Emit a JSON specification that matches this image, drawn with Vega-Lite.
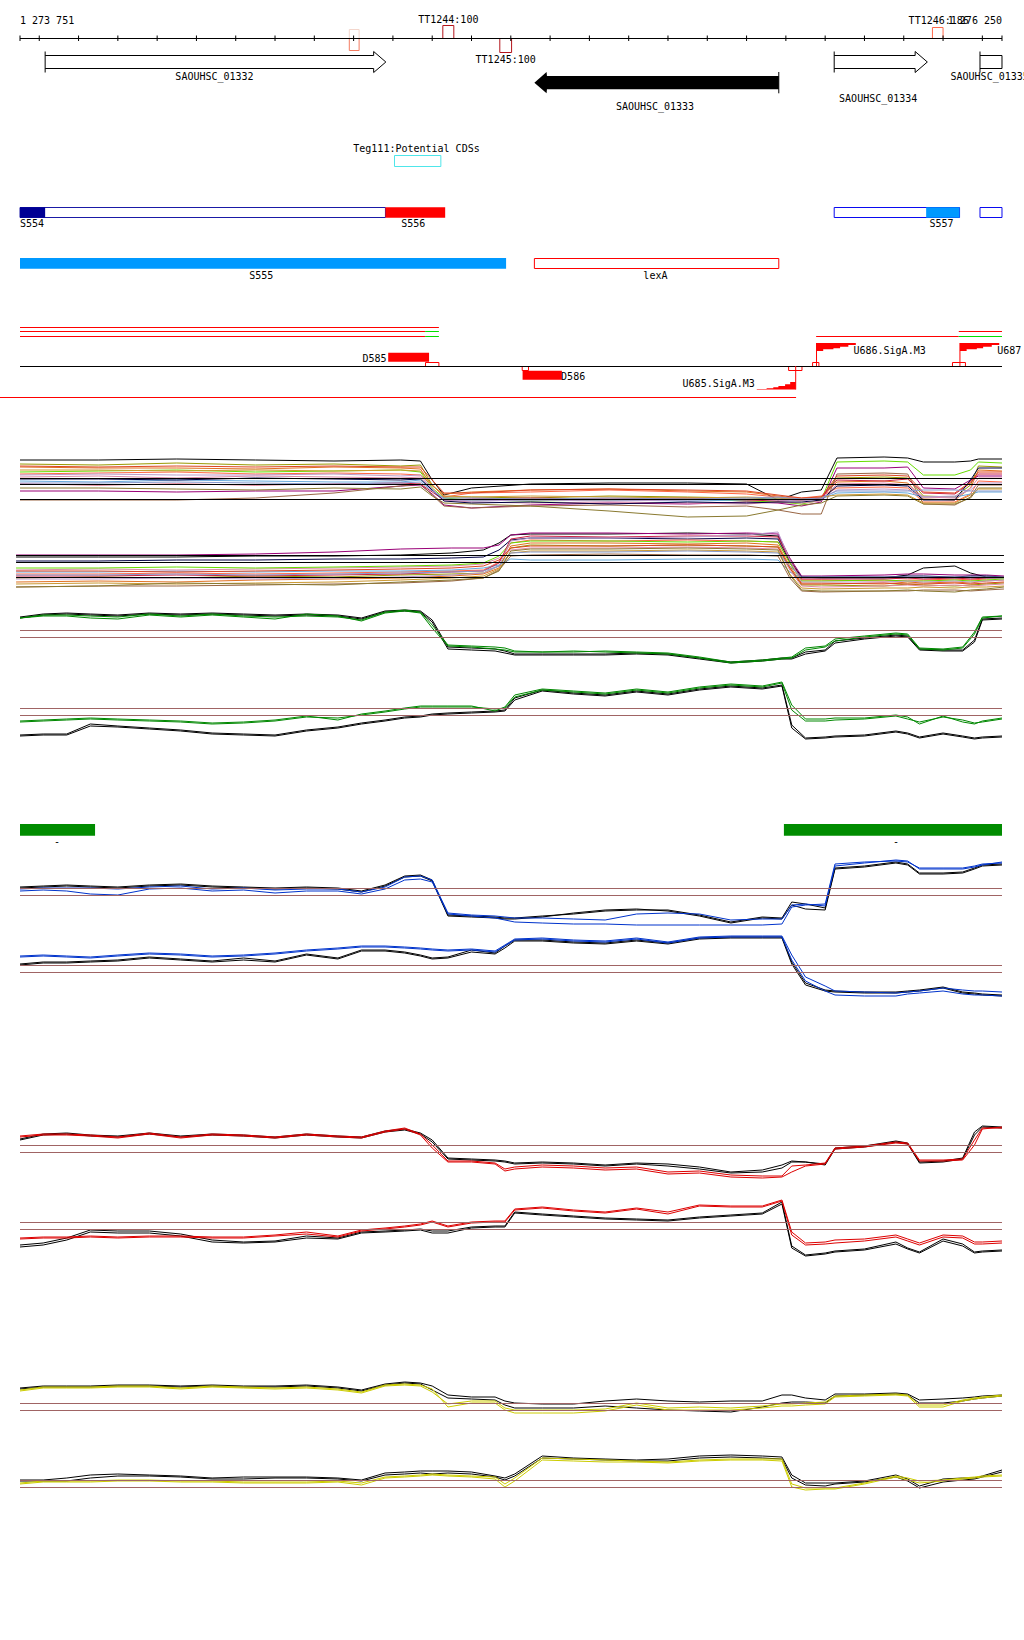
{
"$schema":"https://vega.github.io/schema/vega-lite/v6.json",
"width":1024,"height":1640,
"autosize":{"type":"none"},
"padding":0,
"background":"#ffffff",
"config":{"view":{"stroke":null}},
"datasets":{
"boxes":[
{"x":1274827,"x2":1274855,"y":25.5,"y2":38.5,"k":"TT100"},
{"x":1274972,"x2":1275002,"y":38.5,"y2":52.5,"k":"TT100"},
{"x":1276073,"x2":1276100,"y":27.5,"y2":38.5,"k":"TT186"},
{"x":1274589,"x2":1274614,"y":29.5,"y2":38.5,"k":"TTfwd"},
{"x":1274589,"x2":1274614,"y":38.5,"y2":50.5,"k":"TTrev"},
{"x":1274704,"x2":1274822,"y":155.5,"y2":166.5,"k":"Teg111"},
{"x":1273751,"x2":1274681,"y":207.5,"y2":217.5,"k":"S554"},
{"x":1275823,"x2":1276142,"y":207.5,"y2":217.5,"k":"S557"},
{"x":1276194,"x2":1276250,"y":207.5,"y2":217.5,"k":"S557"},
{"x":1275060,"x2":1275682,"y":258.5,"y2":268.5,"k":"lexA"},
{"x":1274783,"x2":1274817,"y":362.5,"y2":366.5,"k":"site"},
{"x":1275029,"x2":1275045,"y":366.5,"y2":370.5,"k":"site"},
{"x":1275707,"x2":1275741,"y":366.5,"y2":370.5,"k":"site"},
{"x":1275768,"x2":1275784,"y":362.5,"y2":366.5,"k":"site"},
{"x":1276124,"x2":1276157,"y":362.5,"y2":366.5,"k":"site"}
],
"fills":[
{"x":1273751,"x2":1273815,"y":207.3,"y2":217.7,"k":"S554"},
{"x":1274681,"x2":1274833,"y":207.3,"y2":217.7,"k":"S556"},
{"x":1276057,"x2":1276142,"y":207.3,"y2":217.7,"k":"S557"},
{"x":1273751,"x2":1274988,"y":258,"y2":268.7,"k":"S555"},
{"x":1274688,"x2":1274792,"y":352.7,"y2":361.7,"k":"D585"},
{"x":1275030,"x2":1275130,"y":370.7,"y2":379.7,"k":"D586"},
{"x":1273751,"x2":1273942,"y":824,"y2":835.7,"k":"term"},
{"x":1275695,"x2":1276250,"y":824,"y2":835.7,"k":"term"}
],
"rules":[
{"x":1273751,"x2":1276250,"y":38.5,"y2":38.5,"k":"ruler"},
{"x":1273751,"x2":1273751,"y":35.5,"y2":41,"k":"ruler"},
{"x":1273800,"x2":1273800,"y":35.5,"y2":41,"k":"ruler"},
{"x":1273900,"x2":1273900,"y":35.5,"y2":41,"k":"ruler"},
{"x":1274000,"x2":1274000,"y":35.5,"y2":41,"k":"ruler"},
{"x":1274100,"x2":1274100,"y":35.5,"y2":41,"k":"ruler"},
{"x":1274200,"x2":1274200,"y":35.5,"y2":41,"k":"ruler"},
{"x":1274300,"x2":1274300,"y":35.5,"y2":41,"k":"ruler"},
{"x":1274400,"x2":1274400,"y":35.5,"y2":41,"k":"ruler"},
{"x":1274500,"x2":1274500,"y":35.5,"y2":41,"k":"ruler"},
{"x":1274600,"x2":1274600,"y":35.5,"y2":41,"k":"ruler"},
{"x":1274700,"x2":1274700,"y":35.5,"y2":41,"k":"ruler"},
{"x":1274800,"x2":1274800,"y":35.5,"y2":41,"k":"ruler"},
{"x":1274900,"x2":1274900,"y":35.5,"y2":41,"k":"ruler"},
{"x":1275000,"x2":1275000,"y":35.5,"y2":41,"k":"ruler"},
{"x":1275100,"x2":1275100,"y":35.5,"y2":41,"k":"ruler"},
{"x":1275200,"x2":1275200,"y":35.5,"y2":41,"k":"ruler"},
{"x":1275300,"x2":1275300,"y":35.5,"y2":41,"k":"ruler"},
{"x":1275400,"x2":1275400,"y":35.5,"y2":41,"k":"ruler"},
{"x":1275500,"x2":1275500,"y":35.5,"y2":41,"k":"ruler"},
{"x":1275600,"x2":1275600,"y":35.5,"y2":41,"k":"ruler"},
{"x":1275700,"x2":1275700,"y":35.5,"y2":41,"k":"ruler"},
{"x":1275800,"x2":1275800,"y":35.5,"y2":41,"k":"ruler"},
{"x":1275900,"x2":1275900,"y":35.5,"y2":41,"k":"ruler"},
{"x":1276000,"x2":1276000,"y":35.5,"y2":41,"k":"ruler"},
{"x":1276100,"x2":1276100,"y":35.5,"y2":41,"k":"ruler"},
{"x":1276200,"x2":1276200,"y":35.5,"y2":41,"k":"ruler"},
{"x":1276250,"x2":1276250,"y":35.5,"y2":41,"k":"ruler"},
{"x":1273815,"x2":1273815,"y":51.5,"y2":72.5,"k":"ruler"},
{"x":1275823,"x2":1275823,"y":51.5,"y2":72.5,"k":"ruler"},
{"x":1276194,"x2":1276194,"y":51.5,"y2":72.5,"k":"ruler"},
{"x":1275682,"x2":1275682,"y":72,"y2":93.3,"k":"ruler"},
{"x":1273751,"x2":1274817,"y":327.5,"y2":327.5,"k":"cov"},
{"x":1273751,"x2":1274782,"y":331.5,"y2":331.5,"k":"cov"},
{"x":1274782,"x2":1274817,"y":331.5,"y2":331.5,"k":"covAlt"},
{"x":1273751,"x2":1274782,"y":336.5,"y2":336.5,"k":"cov"},
{"x":1274782,"x2":1274817,"y":336.5,"y2":336.5,"k":"covAlt"},
{"x":1276140,"x2":1276250,"y":331.5,"y2":331.5,"k":"cov"},
{"x":1275777,"x2":1276140,"y":336.5,"y2":336.5,"k":"cov"},
{"x":1276140,"x2":1276250,"y":336.5,"y2":336.5,"k":"covAlt"},
{"x":1273751,"x2":1276250,"y":366.5,"y2":366.5,"k":"ruler"},
{"x":1273700,"x2":1275726,"y":397.5,"y2":397.5,"k":"cov"},
{"x":1275725,"x2":1275725,"y":366,"y2":389.5,"k":"cov"},
{"x":1275778,"x2":1275778,"y":343,"y2":366,"k":"cov"},
{"x":1276143,"x2":1276143,"y":343,"y2":366,"k":"cov"},
{"x":1273751,"x2":1276250,"y":478.5,"y2":478.5,"k":"ruler"},
{"x":1273751,"x2":1276250,"y":484.5,"y2":484.5,"k":"ruler"},
{"x":1273751,"x2":1276250,"y":499.5,"y2":499.5,"k":"ruler"},
{"x":1273741,"x2":1276255,"y":555.5,"y2":555.5,"k":"ruler"},
{"x":1273741,"x2":1276255,"y":562.5,"y2":562.5,"k":"ruler"},
{"x":1273741,"x2":1276255,"y":577.5,"y2":577.5,"k":"ruler"},
{"x":1273751,"x2":1276250,"y":630.5,"y2":630.5,"k":"thr"},
{"x":1273751,"x2":1276250,"y":637.5,"y2":637.5,"k":"thr"},
{"x":1273751,"x2":1276250,"y":708.5,"y2":708.5,"k":"thr"},
{"x":1273751,"x2":1276250,"y":715.5,"y2":715.5,"k":"thr"},
{"x":1273751,"x2":1276250,"y":888.5,"y2":888.5,"k":"thr"},
{"x":1273751,"x2":1276250,"y":895.5,"y2":895.5,"k":"thr"},
{"x":1273751,"x2":1276250,"y":965.5,"y2":965.5,"k":"thr"},
{"x":1273751,"x2":1276250,"y":972.5,"y2":972.5,"k":"thr"},
{"x":1273751,"x2":1276250,"y":1145.5,"y2":1145.5,"k":"thr"},
{"x":1273751,"x2":1276250,"y":1152.5,"y2":1152.5,"k":"thr"},
{"x":1273751,"x2":1276250,"y":1222.5,"y2":1222.5,"k":"thr"},
{"x":1273751,"x2":1276250,"y":1229.5,"y2":1229.5,"k":"thr"},
{"x":1273751,"x2":1276250,"y":1403.5,"y2":1403.5,"k":"thr"},
{"x":1273751,"x2":1276250,"y":1410.5,"y2":1410.5,"k":"thr"},
{"x":1273751,"x2":1276250,"y":1480.5,"y2":1480.5,"k":"thr"},
{"x":1273751,"x2":1276250,"y":1487.5,"y2":1487.5,"k":"thr"}
],
"genes":[
{"g":"SAOUHSC_01332","o":1,"x":1273815,"y":55.5},
{"g":"SAOUHSC_01332","o":2,"x":1274651,"y":55.5},
{"g":"SAOUHSC_01332","o":3,"x":1274651,"y":51.5},
{"g":"SAOUHSC_01332","o":4,"x":1274682,"y":62},
{"g":"SAOUHSC_01332","o":5,"x":1274651,"y":72.5},
{"g":"SAOUHSC_01332","o":6,"x":1274651,"y":68.5},
{"g":"SAOUHSC_01332","o":7,"x":1273815,"y":68.5},
{"g":"SAOUHSC_01334","o":1,"x":1275823,"y":55.5},
{"g":"SAOUHSC_01334","o":2,"x":1276029,"y":55.5},
{"g":"SAOUHSC_01334","o":3,"x":1276029,"y":51.5},
{"g":"SAOUHSC_01334","o":4,"x":1276060,"y":62},
{"g":"SAOUHSC_01334","o":5,"x":1276029,"y":72.5},
{"g":"SAOUHSC_01334","o":6,"x":1276029,"y":68.5},
{"g":"SAOUHSC_01334","o":7,"x":1275823,"y":68.5},
{"g":"SAOUHSC_01335","o":1,"x":1276194,"y":55.5},
{"g":"SAOUHSC_01335","o":2,"x":1276250,"y":55.5},
{"g":"SAOUHSC_01335","o":3,"x":1276250,"y":68.5},
{"g":"SAOUHSC_01335","o":4,"x":1276194,"y":68.5}
],
"arrow33":[
{"x":1275060,"y":82.7,"y2":82.7},
{"x":1275091,"y":72,"y2":93.3},
{"x":1275092,"y":76,"y2":89.3},
{"x":1275682,"y":76,"y2":89.3}
],
"flags":[
{"f":"U685","x":1275626,"y":389,"y2":389.5},
{"f":"U685","x":1275651,"y":388.3,"y2":389.5},
{"f":"U685","x":1275668,"y":387.3,"y2":389.5},
{"f":"U685","x":1275681,"y":386,"y2":389.5},
{"f":"U685","x":1275698,"y":384.3,"y2":389.5},
{"f":"U685","x":1275711,"y":382,"y2":389.5},
{"f":"U685","x":1275725,"y":381,"y2":389.5},
{"f":"U686","x":1275778,"y":343,"y2":351},
{"f":"U686","x":1275795,"y":343,"y2":349.3},
{"f":"U686","x":1275821,"y":343,"y2":348.3},
{"f":"U686","x":1275838,"y":343,"y2":346.7},
{"f":"U686","x":1275859,"y":343,"y2":345},
{"f":"U686","x":1275878,"y":343,"y2":345},
{"f":"U687","x":1276143,"y":343,"y2":351},
{"f":"U687","x":1276160,"y":343,"y2":349.3},
{"f":"U687","x":1276186,"y":343,"y2":348.3},
{"f":"U687","x":1276202,"y":343,"y2":346.7},
{"f":"U687","x":1276224,"y":343,"y2":345},
{"f":"U687","x":1276243,"y":343,"y2":345}
],
"labL":[
{"x":1273751,"y":24,"t":"1 273 751"},
{"x":1276119,"y":80,"t":"SAOUHSC_01335"},
{"x":1273751,"y":227,"t":"S554"},
{"x":1275128,"y":379.7,"t":"D586"},
{"x":1275872,"y":354.3,"t":"U686.SigA.M3"},
{"x":1276238,"y":354.3,"t":"U687"}
],
"labC":[
{"x":1274841,"y":23,"t":"TT1244:100"},
{"x":1274987,"y":63,"t":"TT1245:100"},
{"x":1276089,"y":24,"t":"TT1246:186"},
{"x":1274246,"y":80,"t":"SAOUHSC_01332"},
{"x":1275367,"y":110,"t":"SAOUHSC_01333"},
{"x":1275935,"y":101.5,"t":"SAOUHSC_01334"},
{"x":1274760,"y":152,"t":"Teg111:Potential CDSs"},
{"x":1274752,"y":227,"t":"S556"},
{"x":1276096,"y":227,"t":"S557"},
{"x":1274365,"y":278.5,"t":"S555"},
{"x":1275368,"y":278.5,"t":"lexA"},
{"x":1273845,"y":844.5,"t":"-"},
{"x":1275980,"y":844.5,"t":"-"}
],
"labR":[
{"x":1276250,"y":24,"t":"1 276 250"},
{"x":1274684,"y":362,"t":"D585"},
{"x":1275621,"y":387,"t":"U685.SigA.M3"}
],
"expr":[
{"s":"A01","c":"s01","x":[1273751,1273950,1274150,1274350,1274550,1274720,1274770,1274800,1274830,1274900,1275050,1275250,1275450,1275600,1275680,1275740,1275790,1275830,1275950,1276010,1276050,1276130,1276170,1276190,1276250],"y":[460,460,459,460,461,460,461,480,495,488,484,483,483,484,500,492,490,458,457,458,462,462,461,459,459]},
{"s":"A02","c":"s02","x":[1273751,1273950,1274150,1274350,1274550,1274720,1274770,1274800,1274830,1274900,1275050,1275250,1275450,1275600,1275680,1275740,1275790,1275830,1275950,1276010,1276050,1276130,1276170,1276190,1276250],"y":[472,471,470,472,471,470,472,488,498,500,501,500,499,501,502,504,500,462,461,462,475,475,470,462,463]},
{"s":"A03","c":"s03","x":[1273751,1273950,1274150,1274350,1274550,1274720,1274770,1274800,1274830,1274900,1275050,1275250,1275450,1275600,1275680,1275740,1275790,1275830,1275950,1276010,1276050,1276130,1276170,1276190,1276250],"y":[464,465,463,465,464,466,465,485,497,497,498,496,497,498,499,501,498,478,477,478,496,497,485,466,467]},
{"s":"A04","c":"s04","x":[1273751,1273950,1274150,1274350,1274550,1274720,1274770,1274800,1274830,1274900,1275050,1275250,1275450,1275600,1275680,1275740,1275790,1275830,1275950,1276010,1276050,1276130,1276170,1276190,1276250],"y":[467,468,468,469,467,468,469,486,494,492,490,489,491,492,496,499,497,482,481,483,499,500,488,470,471]},
{"s":"A05","c":"s05","x":[1273751,1273950,1274150,1274350,1274550,1274720,1274770,1274800,1274830,1274900,1275050,1275250,1275450,1275600,1275680,1275740,1275790,1275830,1275950,1276010,1276050,1276130,1276170,1276190,1276250],"y":[491,491,492,491,491,486,485,494,505,508,505,503,504,502,503,506,502,468,468,467,488,489,480,476,476]},
{"s":"A06","c":"s06","x":[1273751,1273950,1274150,1274350,1274550,1274720,1274770,1274800,1274830,1274900,1275050,1275250,1275450,1275600,1275680,1275740,1275790,1275830,1275950,1276010,1276050,1276130,1276170,1276190,1276250],"y":[474,473,472,474,473,474,475,485,497,493,492,490,492,494,497,498,496,488,487,488,502,502,494,481,482]},
{"s":"A07","c":"s07","x":[1273751,1273950,1274150,1274350,1274550,1274720,1274770,1274800,1274830,1274900,1275050,1275250,1275450,1275600,1275680,1275740,1275790,1275830,1275950,1276010,1276050,1276130,1276170,1276190,1276250],"y":[481,482,480,481,482,482,480,490,499,501,500,500,501,500,498,500,499,493,492,493,497,497,494,492,492]},
{"s":"A08","c":"s08","x":[1273751,1273950,1274150,1274350,1274550,1274720,1274770,1274800,1274830,1274900,1275050,1275250,1275450,1275600,1275680,1275740,1275790,1275830,1275950,1276010,1276050,1276130,1276170,1276190,1276250],"y":[477,476,478,476,477,478,477,489,500,502,503,502,503,504,502,503,501,484,483,485,497,498,488,478,478]},
{"s":"A09","c":"s09","x":[1273751,1273950,1274150,1274350,1274550,1274720,1274770,1274800,1274830,1274900,1275050,1275250,1275450,1275600,1275680,1275740,1275790,1275830,1275950,1276010,1276050,1276130,1276170,1276190,1276250],"y":[500,500,500,498,493,486,484,495,506,508,506,505,507,506,510,514,514,474,473,474,504,505,497,485,485]},
{"s":"A10","c":"s10","x":[1273751,1273950,1274150,1274350,1274550,1274720,1274770,1274800,1274830,1274900,1275050,1275250,1275450,1275600,1275680,1275740,1275790,1275830,1275950,1276010,1276050,1276130,1276170,1276190,1276250],"y":[488,488,489,490,488,489,487,496,503,504,506,511,517,516,510,505,503,496,495,496,504,504,498,488,488]},
{"s":"A11","c":"s11","x":[1273751,1273950,1274150,1274350,1274550,1274720,1274770,1274800,1274830,1274900,1275050,1275250,1275450,1275600,1275680,1275740,1275790,1275830,1275950,1276010,1276050,1276130,1276170,1276190,1276250],"y":[484,485,484,485,484,483,484,492,500,499,498,499,498,500,501,500,498,480,481,479,493,494,483,474,474]},
{"s":"A12","c":"s12","x":[1273751,1273950,1274150,1274350,1274550,1274720,1274770,1274800,1274830,1274900,1275050,1275250,1275450,1275600,1275680,1275740,1275790,1275830,1275950,1276010,1276050,1276130,1276170,1276190,1276250],"y":[479,479,480,478,479,480,479,490,501,503,502,504,502,503,502,502,500,486,485,486,500,500,480,468,468]},
{"s":"A13","c":"s13","x":[1273751,1273950,1274150,1274350,1274550,1274720,1274770,1274800,1274830,1274900,1275050,1275250,1275450,1275600,1275680,1275740,1275790,1275830,1275950,1276010,1276050,1276130,1276170,1276190,1276250],"y":[475,474,475,475,474,476,475,489,500,501,500,501,500,499,500,501,499,490,489,490,497,496,490,483,483]},
{"s":"A14","c":"s14","x":[1273751,1273950,1274150,1274350,1274550,1274720,1274770,1274800,1274830,1274900,1275050,1275250,1275450,1275600,1275680,1275740,1275790,1275830,1275950,1276010,1276050,1276130,1276170,1276190,1276250],"y":[470,470,471,470,471,470,471,485,496,497,496,497,498,497,498,499,497,495,494,495,503,503,495,489,489]},
{"s":"A15","c":"s15","x":[1273751,1273950,1274150,1274350,1274550,1274720,1274770,1274800,1274830,1274900,1275050,1275250,1275450,1275600,1275680,1275740,1275790,1275830,1275950,1276010,1276050,1276130,1276170,1276190,1276250],"y":[466,467,466,467,466,467,467,480,493,493,490,489,490,491,495,498,497,476,475,476,492,493,482,472,472]},
{"s":"A16","c":"s16","x":[1273751,1273950,1274150,1274350,1274550,1274720,1274770,1274800,1274830,1274900,1275050,1275250,1275450,1275600,1275680,1275740,1275790,1275830,1275950,1276010,1276050,1276130,1276170,1276190,1276250],"y":[483,483,482,483,484,483,482,491,498,498,499,498,499,498,497,499,498,491,491,491,490,490,491,491,491]},
{"s":"B01","c":"s01","x":[1273741,1273950,1274150,1274350,1274550,1274720,1274850,1274930,1274970,1275000,1275050,1275250,1275450,1275600,1275680,1275710,1275740,1275790,1275950,1276010,1276050,1276130,1276170,1276210,1276255],"y":[557,557,557,556,556,555,553,550,543,535,534,534,533,534,536,560,577,578,578,575,568,566,573,577,577]},
{"s":"B02","c":"s05","x":[1273741,1273950,1274150,1274350,1274550,1274720,1274850,1274930,1274970,1275000,1275050,1275250,1275450,1275600,1275680,1275710,1275740,1275790,1275950,1276010,1276050,1276130,1276170,1276210,1276255],"y":[555,555,555,554,552,549,548,548,545,535,533,533,534,533,534,558,576,576,575,574,574,575,575,575,576]},
{"s":"B03","c":"s12","x":[1273741,1273950,1274150,1274350,1274550,1274720,1274850,1274930,1274970,1275000,1275050,1275250,1275450,1275600,1275680,1275710,1275740,1275790,1275950,1276010,1276050,1276130,1276170,1276210,1276255],"y":[561,561,560,560,559,559,558,557,550,540,538,538,539,538,539,562,577,577,577,576,576,577,576,576,577]},
{"s":"B04","c":"s03","x":[1273741,1273950,1274150,1274350,1274550,1274720,1274850,1274930,1274970,1275000,1275050,1275250,1275450,1275600,1275680,1275710,1275740,1275790,1275950,1276010,1276050,1276130,1276170,1276210,1276255],"y":[578,577,578,576,577,575,574,573,566,548,545,546,545,546,547,568,585,585,586,584,585,586,585,584,583]},
{"s":"B05","c":"s04","x":[1273741,1273950,1274150,1274350,1274550,1274720,1274850,1274930,1274970,1275000,1275050,1275250,1275450,1275600,1275680,1275710,1275740,1275790,1275950,1276010,1276050,1276130,1276170,1276210,1276255],"y":[582,581,582,580,579,578,576,574,568,546,543,543,544,543,545,566,583,583,584,582,583,582,583,581,580]},
{"s":"B06","c":"s06","x":[1273741,1273950,1274150,1274350,1274550,1274720,1274850,1274930,1274970,1275000,1275050,1275250,1275450,1275600,1275680,1275710,1275740,1275790,1275950,1276010,1276050,1276130,1276170,1276210,1276255],"y":[574,574,573,574,573,572,571,570,562,543,540,541,540,541,542,563,580,580,581,580,580,579,580,579,578]},
{"s":"B07","c":"s07","x":[1273741,1273950,1274150,1274350,1274550,1274720,1274850,1274930,1274970,1275000,1275050,1275250,1275450,1275600,1275680,1275710,1275740,1275790,1275950,1276010,1276050,1276130,1276170,1276210,1276255],"y":[572,572,571,572,571,571,570,568,565,559,560,560,559,559,560,572,578,578,578,578,578,578,578,578,578]},
{"s":"B08","c":"s08","x":[1273741,1273950,1274150,1274350,1274550,1274720,1274850,1274930,1274970,1275000,1275050,1275250,1275450,1275600,1275680,1275710,1275740,1275790,1275950,1276010,1276050,1276130,1276170,1276210,1276255],"y":[570,569,570,569,568,567,566,564,558,550,548,548,547,548,549,570,586,587,586,585,586,585,586,585,584]},
{"s":"B09","c":"s09","x":[1273741,1273950,1274150,1274350,1274550,1274720,1274850,1274930,1274970,1275000,1275050,1275250,1275450,1275600,1275680,1275710,1275740,1275790,1275950,1276010,1276050,1276130,1276170,1276210,1276255],"y":[587,586,586,585,584,583,581,578,570,556,555,554,555,555,556,578,591,592,591,591,590,590,591,590,589]},
{"s":"B10","c":"s02","x":[1273741,1273950,1274150,1274350,1274550,1274720,1274850,1274930,1274970,1275000,1275050,1275250,1275450,1275600,1275680,1275710,1275740,1275790,1275950,1276010,1276050,1276130,1276170,1276210,1276255],"y":[568,568,567,568,567,566,565,563,556,543,541,541,542,541,542,563,581,581,580,581,581,580,581,580,579]},
{"s":"B11","c":"s11","x":[1273741,1273950,1274150,1274350,1274550,1274720,1274850,1274930,1274970,1275000,1275050,1275250,1275450,1275600,1275680,1275710,1275740,1275790,1275950,1276010,1276050,1276130,1276170,1276210,1276255],"y":[576,576,575,576,575,574,572,571,563,539,536,537,536,536,537,560,579,579,579,578,579,578,579,578,577]},
{"s":"B12","c":"s13","x":[1273741,1273950,1274150,1274350,1274550,1274720,1274850,1274930,1274970,1275000,1275050,1275250,1275450,1275600,1275680,1275710,1275740,1275790,1275950,1276010,1276050,1276130,1276170,1276210,1276255],"y":[579,579,578,579,578,577,575,573,566,541,538,538,537,535,532,560,582,582,582,581,582,581,582,581,580]},
{"s":"B13","c":"s14","x":[1273741,1273950,1274150,1274350,1274550,1274720,1274850,1274930,1274970,1275000,1275050,1275250,1275450,1275600,1275680,1275710,1275740,1275790,1275950,1276010,1276050,1276130,1276170,1276210,1276255],"y":[584,583,584,583,582,580,578,576,569,553,551,551,550,551,552,574,588,589,588,588,587,588,587,587,586]},
{"s":"B14","c":"s15","x":[1273741,1273950,1274150,1274350,1274550,1274720,1274850,1274930,1274970,1275000,1275050,1275250,1275450,1275600,1275680,1275710,1275740,1275790,1275950,1276010,1276050,1276130,1276170,1276210,1276255],"y":[571,571,572,571,570,569,568,566,560,548,546,546,545,546,547,568,584,584,583,584,584,583,584,583,582]},
{"s":"B15","c":"s16","x":[1273741,1273950,1274150,1274350,1274550,1274720,1274850,1274930,1274970,1275000,1275050,1275250,1275450,1275600,1275680,1275710,1275740,1275790,1275950,1276010,1276050,1276130,1276170,1276210,1276255],"y":[575,575,574,575,574,573,572,571,566,553,552,552,551,552,553,566,577,577,577,577,577,577,577,577,577]},
{"s":"B16","c":"s10","x":[1273741,1273950,1274150,1274350,1274550,1274720,1274850,1274930,1274970,1275000,1275050,1275250,1275450,1275600,1275680,1275710,1275740,1275790,1275950,1276010,1276050,1276130,1276170,1276210,1276255],"y":[587,586,583,584,585,582,580,578,571,551,549,549,548,549,550,575,590,591,591,590,591,592,590,589,587]},
{"s":"C1k1","c":"ctrl","x":[1273751,1273810,1273870,1273930,1274000,1274080,1274160,1274240,1274320,1274400,1274480,1274560,1274620,1274680,1274730,1274770,1274800,1274840,1274900,1274960,1274985,1275010,1275080,1275160,1275240,1275320,1275400,1275480,1275560,1275640,1275690,1275715,1275750,1275800,1275825,1275900,1275980,1276010,1276040,1276100,1276150,1276180,1276200,1276250],"y":[617,614,613,614,615,613,614,613,614,615,614,615,618,611,610,611,620,647,648,649,651,654,654,654,654,653,654,658,662,660,658,658,652,650,641,638,635,636,649,650,650,640,619,618]},
{"s":"C1k2","c":"ctrl","x":[1273751,1273810,1273870,1273930,1274000,1274080,1274160,1274240,1274320,1274400,1274480,1274560,1274620,1274680,1274730,1274770,1274800,1274840,1274900,1274960,1274985,1275010,1275080,1275160,1275240,1275320,1275400,1275480,1275560,1275640,1275690,1275715,1275750,1275800,1275825,1275900,1275980,1276010,1276040,1276100,1276150,1276180,1276200,1276250],"y":[618,615,614,615,616,614,615,614,615,616,615,616,619,612,611,612,622,649,650,651,653,655,655,655,655,654,655,659,663,661,659,659,654,651,643,639,636,637,650,651,651,642,620,619]},
{"s":"C1g1","c":"G","x":[1273751,1273810,1273870,1273930,1274000,1274080,1274160,1274240,1274320,1274400,1274480,1274560,1274620,1274680,1274730,1274770,1274800,1274840,1274900,1274960,1274985,1275010,1275080,1275160,1275240,1275320,1275400,1275480,1275560,1275640,1275690,1275715,1275750,1275800,1275825,1275900,1275980,1276010,1276040,1276100,1276150,1276180,1276200,1276250],"y":[618,615,615,616,617,614,616,614,616,617,616,617,620,612,610,612,625,645,646,647,648,651,652,652,651,652,653,657,662,660,658,657,648,646,639,636,633,634,648,649,647,632,617,616]},
{"s":"C1g2","c":"G","x":[1273751,1273810,1273870,1273930,1274000,1274080,1274160,1274240,1274320,1274400,1274480,1274560,1274620,1274680,1274730,1274770,1274800,1274840,1274900,1274960,1274985,1275010,1275080,1275160,1275240,1275320,1275400,1275480,1275560,1275640,1275690,1275715,1275750,1275800,1275825,1275900,1275980,1276010,1276040,1276100,1276150,1276180,1276200,1276250],"y":[618,616,616,618,619,615,617,615,617,619,614,616,621,613,611,613,628,646,647,649,650,652,652,651,652,653,654,658,663,661,659,658,650,647,641,637,634,635,649,650,648,634,618,616]},
{"s":"C2k1","c":"ctrl","x":[1273751,1273810,1273870,1273930,1274000,1274080,1274160,1274240,1274320,1274400,1274480,1274560,1274620,1274680,1274730,1274770,1274800,1274840,1274900,1274960,1274985,1275010,1275080,1275160,1275240,1275320,1275400,1275480,1275560,1275640,1275690,1275715,1275750,1275800,1275825,1275900,1275980,1276010,1276040,1276100,1276150,1276180,1276200,1276250],"y":[735,734,734,724,726,728,730,733,734,735,730,727,723,720,717,716,714,713,712,711,710,698,690,693,695,691,694,689,686,688,685,725,738,737,736,735,731,733,737,733,736,738,737,736]},
{"s":"C2k2","c":"ctrl","x":[1273751,1273810,1273870,1273930,1274000,1274080,1274160,1274240,1274320,1274400,1274480,1274560,1274620,1274680,1274730,1274770,1274800,1274840,1274900,1274960,1274985,1275010,1275080,1275160,1275240,1275320,1275400,1275480,1275560,1275640,1275690,1275715,1275750,1275800,1275825,1275900,1275980,1276010,1276040,1276100,1276150,1276180,1276200,1276250],"y":[736,735,735,726,727,729,731,734,735,736,731,728,724,721,718,717,715,714,713,712,711,700,691,694,696,692,695,690,687,689,686,728,739,738,737,736,732,734,738,734,737,739,738,737]},
{"s":"C2g1","c":"G","x":[1273751,1273810,1273870,1273930,1274000,1274080,1274160,1274240,1274320,1274400,1274480,1274560,1274620,1274680,1274730,1274770,1274800,1274840,1274900,1274960,1274985,1275010,1275080,1275160,1275240,1275320,1275400,1275480,1275560,1275640,1275690,1275715,1275750,1275800,1275825,1275900,1275980,1276010,1276040,1276100,1276150,1276180,1276200,1276250],"y":[722,721,720,719,720,721,722,724,723,721,717,718,715,712,709,707,707,707,707,709,708,697,690,692,694,690,693,688,685,687,683,710,721,721,720,719,716,719,722,717,720,723,722,719]},
{"s":"C2g2","c":"G","x":[1273751,1273810,1273870,1273930,1274000,1274080,1274160,1274240,1274320,1274400,1274480,1274560,1274620,1274680,1274730,1274770,1274800,1274840,1274900,1274960,1274985,1275010,1275080,1275160,1275240,1275320,1275400,1275480,1275560,1275640,1275690,1275715,1275750,1275800,1275825,1275900,1275980,1276010,1276040,1276100,1276150,1276180,1276200,1276250],"y":[721,720,719,718,719,720,721,723,722,720,716,720,714,711,708,706,706,706,706,711,707,695,689,691,693,689,692,687,684,686,682,705,719,719,718,718,715,717,724,716,722,724,721,718]},
{"s":"D1k1","c":"ctrl","x":[1273751,1273810,1273870,1273930,1274000,1274080,1274160,1274240,1274320,1274400,1274480,1274560,1274620,1274680,1274730,1274770,1274800,1274840,1274900,1274960,1274985,1275010,1275080,1275160,1275240,1275320,1275400,1275480,1275560,1275640,1275690,1275715,1275750,1275800,1275825,1275900,1275980,1276010,1276040,1276100,1276150,1276180,1276200,1276250],"y":[887,886,885,886,887,885,884,886,887,888,887,888,891,885,876,875,880,915,916,917,918,918,916,914,911,910,910,915,922,917,918,902,904,908,868,866,862,864,873,873,872,868,865,864]},
{"s":"D1k2","c":"ctrl","x":[1273751,1273810,1273870,1273930,1274000,1274080,1274160,1274240,1274320,1274400,1274480,1274560,1274620,1274680,1274730,1274770,1274800,1274840,1274900,1274960,1274985,1275010,1275080,1275160,1275240,1275320,1275400,1275480,1275560,1275640,1275690,1275715,1275750,1275800,1275825,1275900,1275980,1276010,1276040,1276100,1276150,1276180,1276200,1276250],"y":[888,887,886,887,888,886,885,887,888,889,888,889,892,886,877,876,881,916,917,918,919,919,917,913,910,909,911,916,923,918,919,905,909,910,869,867,863,865,874,874,873,869,866,865]},
{"s":"D1b1","c":"B","x":[1273751,1273810,1273870,1273930,1274000,1274080,1274160,1274240,1274320,1274400,1274480,1274560,1274620,1274680,1274730,1274770,1274800,1274840,1274900,1274960,1274985,1275010,1275080,1275160,1275240,1275320,1275400,1275480,1275560,1275640,1275690,1275715,1275750,1275800,1275825,1275900,1275980,1276010,1276040,1276100,1276150,1276180,1276200,1276250],"y":[891,890,891,894,895,889,888,891,890,893,891,891,894,889,880,879,882,914,916,918,920,922,923,924,924,925,925,925,925,925,924,907,905,904,864,862,861,862,868,868,868,866,864,863]},
{"s":"D1b2","c":"B","x":[1273751,1273810,1273870,1273930,1274000,1274080,1274160,1274240,1274320,1274400,1274480,1274560,1274620,1274680,1274730,1274770,1274800,1274840,1274900,1274960,1274985,1275010,1275080,1275160,1275240,1275320,1275400,1275480,1275560,1275640,1275690,1275715,1275750,1275800,1275825,1275900,1275980,1276010,1276040,1276100,1276150,1276180,1276200,1276250],"y":[889,888,888,888,889,887,886,889,888,890,889,889,892,887,877,876,880,913,915,916,917,918,918,919,920,914,913,914,920,919,919,905,904,906,866,863,860,861,869,869,869,867,865,862]},
{"s":"D2k1","c":"ctrl","x":[1273751,1273810,1273870,1273930,1274000,1274080,1274160,1274240,1274320,1274400,1274480,1274560,1274620,1274680,1274730,1274770,1274800,1274840,1274900,1274960,1274985,1275010,1275080,1275160,1275240,1275320,1275400,1275480,1275560,1275640,1275690,1275715,1275750,1275800,1275825,1275900,1275980,1276010,1276040,1276100,1276150,1276180,1276200,1276250],"y":[964,962,962,961,960,957,959,961,958,961,954,958,950,950,952,955,958,957,950,953,946,940,940,942,943,940,943,938,937,937,937,962,983,990,991,992,992,991,990,987,992,993,994,995]},
{"s":"D2k2","c":"ctrl","x":[1273751,1273810,1273870,1273930,1274000,1274080,1274160,1274240,1274320,1274400,1274480,1274560,1274620,1274680,1274730,1274770,1274800,1274840,1274900,1274960,1274985,1275010,1275080,1275160,1275240,1275320,1275400,1275480,1275560,1275640,1275690,1275715,1275750,1275800,1275825,1275900,1275980,1276010,1276040,1276100,1276150,1276180,1276200,1276250],"y":[965,963,963,962,961,958,960,962,960,962,955,959,951,951,953,956,959,958,952,954,948,941,941,943,944,941,944,939,938,938,938,964,985,991,992,993,993,992,991,988,993,994,995,996]},
{"s":"D2b1","c":"B","x":[1273751,1273810,1273870,1273930,1274000,1274080,1274160,1274240,1274320,1274400,1274480,1274560,1274620,1274680,1274730,1274770,1274800,1274840,1274900,1274960,1274985,1275010,1275080,1275160,1275240,1275320,1275400,1275480,1275560,1275640,1275690,1275715,1275750,1275800,1275825,1275900,1275980,1276010,1276040,1276100,1276150,1276180,1276200,1276250],"y":[956,955,956,957,955,953,954,956,955,953,950,948,946,946,947,948,949,950,949,951,945,939,938,940,941,938,942,937,936,936,936,955,977,986,991,992,993,992,991,988,990,991,991,992]},
{"s":"D2b2","c":"B","x":[1273751,1273810,1273870,1273930,1274000,1274080,1274160,1274240,1274320,1274400,1274480,1274560,1274620,1274680,1274730,1274770,1274800,1274840,1274900,1274960,1274985,1275010,1275080,1275160,1275240,1275320,1275400,1275480,1275560,1275640,1275690,1275715,1275750,1275800,1275825,1275900,1275980,1276010,1276040,1276100,1276150,1276180,1276200,1276250],"y":[957,956,957,958,956,954,955,957,956,954,951,949,947,947,948,949,950,951,950,952,946,940,939,941,942,939,943,938,937,937,937,960,981,991,995,996,996,994,993,991,994,995,995,996]},
{"s":"E1k1","c":"ctrl","x":[1273751,1273810,1273870,1273930,1274000,1274080,1274160,1274240,1274320,1274400,1274480,1274560,1274620,1274680,1274730,1274770,1274800,1274840,1274900,1274960,1274985,1275010,1275080,1275160,1275240,1275320,1275400,1275480,1275560,1275640,1275690,1275715,1275750,1275800,1275825,1275900,1275980,1276010,1276040,1276100,1276150,1276180,1276200,1276250],"y":[1139,1134,1133,1135,1136,1133,1136,1134,1135,1137,1134,1136,1137,1131,1129,1133,1140,1158,1159,1160,1161,1163,1162,1163,1165,1163,1164,1167,1172,1170,1165,1161,1162,1164,1148,1146,1141,1143,1162,1161,1158,1132,1126,1127]},
{"s":"E1k2","c":"ctrl","x":[1273751,1273810,1273870,1273930,1274000,1274080,1274160,1274240,1274320,1274400,1274480,1274560,1274620,1274680,1274730,1274770,1274800,1274840,1274900,1274960,1274985,1275010,1275080,1275160,1275240,1275320,1275400,1275480,1275560,1275640,1275690,1275715,1275750,1275800,1275825,1275900,1275980,1276010,1276040,1276100,1276150,1276180,1276200,1276250],"y":[1140,1135,1134,1136,1137,1134,1137,1135,1136,1138,1135,1137,1138,1132,1130,1134,1142,1159,1160,1161,1162,1164,1163,1164,1166,1164,1166,1169,1173,1172,1168,1162,1162,1165,1149,1147,1142,1144,1163,1162,1159,1135,1127,1128]},
{"s":"E1r1","c":"R","x":[1273751,1273810,1273870,1273930,1274000,1274080,1274160,1274240,1274320,1274400,1274480,1274560,1274620,1274680,1274730,1274770,1274800,1274840,1274900,1274960,1274985,1275010,1275080,1275160,1275240,1275320,1275400,1275480,1275560,1275640,1275690,1275715,1275750,1275800,1275825,1275900,1275980,1276010,1276040,1276100,1276150,1276180,1276200,1276250],"y":[1136,1134,1134,1135,1137,1133,1137,1134,1135,1137,1134,1136,1137,1131,1128,1134,1145,1161,1161,1163,1169,1167,1165,1166,1168,1167,1172,1171,1175,1176,1176,1166,1165,1163,1148,1146,1142,1143,1160,1160,1159,1140,1128,1128]},
{"s":"E1r2","c":"R","x":[1273751,1273810,1273870,1273930,1274000,1274080,1274160,1274240,1274320,1274400,1274480,1274560,1274620,1274680,1274730,1274770,1274800,1274840,1274900,1274960,1274985,1275010,1275080,1275160,1275240,1275320,1275400,1275480,1275560,1275640,1275690,1275715,1275750,1275800,1275825,1275900,1275980,1276010,1276040,1276100,1276150,1276180,1276200,1276250],"y":[1137,1135,1135,1136,1138,1134,1138,1135,1136,1138,1135,1137,1138,1132,1129,1135,1148,1162,1162,1164,1171,1169,1167,1168,1170,1169,1174,1173,1177,1178,1177,1172,1166,1164,1149,1147,1143,1144,1161,1161,1160,1145,1129,1127]},
{"s":"E2k1","c":"ctrl","x":[1273751,1273810,1273870,1273930,1274000,1274080,1274160,1274240,1274320,1274400,1274480,1274560,1274620,1274680,1274730,1274770,1274800,1274840,1274900,1274960,1274985,1275010,1275080,1275160,1275240,1275320,1275400,1275480,1275560,1275640,1275690,1275715,1275750,1275800,1275825,1275900,1275980,1276010,1276040,1276100,1276150,1276180,1276200,1276250],"y":[1245,1243,1238,1230,1231,1231,1234,1240,1242,1241,1236,1238,1232,1231,1230,1229,1231,1231,1227,1226,1226,1212,1214,1216,1218,1219,1220,1217,1215,1213,1202,1246,1255,1253,1251,1249,1242,1248,1252,1239,1244,1252,1251,1250]},
{"s":"E2k2","c":"ctrl","x":[1273751,1273810,1273870,1273930,1274000,1274080,1274160,1274240,1274320,1274400,1274480,1274560,1274620,1274680,1274730,1274770,1274800,1274840,1274900,1274960,1274985,1275010,1275080,1275160,1275240,1275320,1275400,1275480,1275560,1275640,1275690,1275715,1275750,1275800,1275825,1275900,1275980,1276010,1276040,1276100,1276150,1276180,1276200,1276250],"y":[1247,1245,1240,1232,1233,1233,1236,1242,1243,1242,1238,1239,1233,1232,1231,1230,1233,1233,1228,1227,1227,1213,1215,1217,1219,1220,1221,1218,1216,1214,1204,1248,1256,1254,1252,1250,1244,1249,1253,1241,1246,1253,1252,1251]},
{"s":"E2r1","c":"R","x":[1273751,1273810,1273870,1273930,1274000,1274080,1274160,1274240,1274320,1274400,1274480,1274560,1274620,1274680,1274730,1274770,1274800,1274840,1274900,1274960,1274985,1275010,1275080,1275160,1275240,1275320,1275400,1275480,1275560,1275640,1275690,1275715,1275750,1275800,1275825,1275900,1275980,1276010,1276040,1276100,1276150,1276180,1276200,1276250],"y":[1239,1238,1238,1237,1238,1237,1237,1238,1238,1236,1234,1237,1231,1229,1227,1225,1222,1227,1223,1222,1222,1210,1208,1211,1213,1209,1214,1206,1207,1207,1201,1235,1245,1244,1243,1241,1237,1241,1245,1237,1238,1244,1244,1243]},
{"s":"E2r2","c":"R","x":[1273751,1273810,1273870,1273930,1274000,1274080,1274160,1274240,1274320,1274400,1274480,1274560,1274620,1274680,1274730,1274770,1274800,1274840,1274900,1274960,1274985,1275010,1275080,1275160,1275240,1275320,1275400,1275480,1275560,1275640,1275690,1275715,1275750,1275800,1275825,1275900,1275980,1276010,1276040,1276100,1276150,1276180,1276200,1276250],"y":[1238,1237,1237,1236,1237,1236,1236,1237,1237,1235,1232,1236,1230,1228,1226,1224,1221,1226,1222,1221,1221,1209,1207,1210,1212,1208,1212,1205,1206,1206,1200,1232,1243,1242,1240,1239,1235,1239,1243,1235,1236,1242,1242,1241]},
{"s":"F1k1","c":"ctrl","x":[1273751,1273810,1273870,1273930,1274000,1274080,1274160,1274240,1274320,1274400,1274480,1274560,1274620,1274680,1274730,1274770,1274800,1274840,1274900,1274960,1274985,1275010,1275080,1275160,1275240,1275320,1275400,1275480,1275560,1275640,1275690,1275715,1275750,1275800,1275825,1275900,1275980,1276010,1276040,1276100,1276150,1276180,1276200,1276250],"y":[1388,1386,1386,1386,1385,1385,1386,1385,1386,1386,1385,1387,1390,1384,1382,1383,1386,1395,1397,1397,1401,1403,1404,1404,1401,1399,1401,1402,1401,1401,1395,1395,1398,1400,1394,1394,1393,1394,1400,1399,1398,1397,1396,1395]},
{"s":"F1k2","c":"ctrl","x":[1273751,1273810,1273870,1273930,1274000,1274080,1274160,1274240,1274320,1274400,1274480,1274560,1274620,1274680,1274730,1274770,1274800,1274840,1274900,1274960,1274985,1275010,1275080,1275160,1275240,1275320,1275400,1275480,1275560,1275640,1275690,1275715,1275750,1275800,1275825,1275900,1275980,1276010,1276040,1276100,1276150,1276180,1276200,1276250],"y":[1389,1387,1387,1387,1386,1386,1387,1386,1387,1387,1386,1388,1391,1385,1383,1384,1390,1398,1399,1400,1405,1408,1408,1408,1406,1408,1410,1411,1412,1407,1403,1402,1402,1403,1396,1395,1394,1395,1403,1403,1401,1399,1398,1396]},
{"s":"F1y1","c":"Y","x":[1273751,1273810,1273870,1273930,1274000,1274080,1274160,1274240,1274320,1274400,1274480,1274560,1274620,1274680,1274730,1274770,1274800,1274840,1274900,1274960,1274985,1275010,1275080,1275160,1275240,1275320,1275400,1275480,1275560,1275640,1275690,1275715,1275750,1275800,1275825,1275900,1275980,1276010,1276040,1276100,1276150,1276180,1276200,1276250],"y":[1390,1387,1387,1387,1386,1386,1388,1386,1387,1388,1387,1389,1392,1385,1384,1385,1389,1407,1403,1403,1410,1413,1413,1413,1411,1405,1410,1410,1410,1408,1406,1406,1405,1404,1397,1396,1395,1396,1407,1407,1401,1399,1398,1396]},
{"s":"F1y2","c":"Y","x":[1273751,1273810,1273870,1273930,1274000,1274080,1274160,1274240,1274320,1274400,1274480,1274560,1274620,1274680,1274730,1274770,1274800,1274840,1274900,1274960,1274985,1275010,1275080,1275160,1275240,1275320,1275400,1275480,1275560,1275640,1275690,1275715,1275750,1275800,1275825,1275900,1275980,1276010,1276040,1276100,1276150,1276180,1276200,1276250],"y":[1391,1388,1388,1388,1387,1387,1389,1387,1388,1389,1388,1390,1393,1386,1385,1386,1392,1404,1401,1401,1408,1410,1410,1410,1409,1403,1408,1407,1408,1406,1404,1404,1403,1402,1396,1395,1394,1395,1405,1405,1400,1398,1397,1395]},
{"s":"F2k1","c":"ctrl","x":[1273751,1273810,1273870,1273930,1274000,1274080,1274160,1274240,1274320,1274400,1274480,1274560,1274620,1274680,1274730,1274770,1274800,1274840,1274900,1274960,1274985,1275010,1275080,1275160,1275240,1275320,1275400,1275480,1275560,1275640,1275690,1275715,1275750,1275800,1275825,1275900,1275980,1276010,1276040,1276100,1276150,1276180,1276200,1276250],"y":[1480,1480,1478,1475,1474,1475,1476,1478,1477,1477,1477,1478,1480,1473,1472,1471,1471,1471,1472,1476,1478,1474,1456,1458,1459,1460,1459,1456,1455,1456,1457,1475,1483,1483,1483,1481,1475,1479,1486,1479,1478,1478,1476,1470]},
{"s":"F2k2","c":"ctrl","x":[1273751,1273810,1273870,1273930,1274000,1274080,1274160,1274240,1274320,1274400,1274480,1274560,1274620,1274680,1274730,1274770,1274800,1274840,1274900,1274960,1274985,1275010,1275080,1275160,1275240,1275320,1275400,1275480,1275560,1275640,1275690,1275715,1275750,1275800,1275825,1275900,1275980,1276010,1276040,1276100,1276150,1276180,1276200,1276250],"y":[1481,1481,1481,1478,1476,1476,1477,1479,1479,1478,1478,1479,1481,1475,1474,1473,1474,1473,1474,1477,1480,1476,1458,1459,1460,1461,1461,1458,1457,1458,1459,1478,1485,1486,1484,1482,1477,1481,1488,1482,1480,1479,1477,1472]},
{"s":"F2y1","c":"Y","x":[1273751,1273810,1273870,1273930,1274000,1274080,1274160,1274240,1274320,1274400,1274480,1274560,1274620,1274680,1274730,1274770,1274800,1274840,1274900,1274960,1274985,1275010,1275080,1275160,1275240,1275320,1275400,1275480,1275560,1275640,1275690,1275715,1275750,1275800,1275825,1275900,1275980,1276010,1276040,1276100,1276150,1276180,1276200,1276250],"y":[1483,1481,1481,1481,1480,1480,1481,1481,1482,1482,1482,1481,1483,1477,1476,1475,1474,1475,1476,1477,1484,1478,1458,1459,1460,1461,1462,1460,1459,1459,1459,1484,1488,1488,1488,1483,1476,1478,1481,1480,1478,1477,1476,1475]},
{"s":"F2y2","c":"Y","x":[1273751,1273810,1273870,1273930,1274000,1274080,1274160,1274240,1274320,1274400,1274480,1274560,1274620,1274680,1274730,1274770,1274800,1274840,1274900,1274960,1274985,1275010,1275080,1275160,1275240,1275320,1275400,1275480,1275560,1275640,1275690,1275715,1275750,1275800,1275825,1275900,1275980,1276010,1276040,1276100,1276150,1276180,1276200,1276250],"y":[1484,1482,1482,1482,1481,1481,1482,1482,1483,1483,1483,1482,1485,1478,1477,1476,1475,1476,1477,1479,1487,1481,1460,1461,1462,1462,1463,1461,1460,1460,1461,1487,1490,1489,1489,1484,1477,1480,1483,1481,1479,1478,1477,1476]}
]
},
"encoding":{
"x":{"field":"x","type":"quantitative","scale":{"domain":[1273700.1,1276306],"nice":false,"zero":false},"axis":null},
"y":{"field":"y","type":"quantitative","scale":{"domain":[0,1640],"reverse":true,"nice":false,"zero":false},"axis":null}
},
"layer":[
{"data":{"name":"expr"},"transform":[{"flatten":["x","y"]}],
 "mark":{"type":"line","strokeWidth":1,"interpolate":"linear"},
 "encoding":{"detail":{"field":"s","type":"nominal"},
  "color":{"field":"c","type":"nominal","legend":null,"scale":{"domain":["s01","s02","s03","s04","s05","s06","s07","s08","s09","s10","s11","s12","s13","s14","s15","s16","ctrl","G","B","R","Y"],"range":["#000000","#66dd00","#999900","#e07020","#990077","#ff6644","#66aadd","#dd88aa","#996644","#8a7a30","#cc2244","#000044","#bb99cc","#cc9933","#dd4422","#8899cc","#000000","#008800","#0033cc","#dd0000","#cccc00"]}}}},
{"data":{"name":"boxes"},
 "mark":{"type":"rect","filled":false,"strokeWidth":1},
 "encoding":{"x2":{"field":"x2"},"y2":{"field":"y2"},
  "color":{"field":"k","type":"nominal","legend":null,"scale":{"domain":["TT100","TT186","TTfwd","TTrev","Teg111","S554","S557","lexA","site"],"range":["#b3141b","#ff6a4d","#f3d6cc","#f47c62","#4ee6ea","#1a1aa6","#0a0af0","#ff0000","#ff0000"]}}}},
{"data":{"name":"fills"},
 "mark":{"type":"rect"},
 "encoding":{"x2":{"field":"x2"},"y2":{"field":"y2"},
  "color":{"field":"k","type":"nominal","legend":null,"scale":{"domain":["S554","S556","S557","S555","D585","D586","term"],"range":["#000094","#ff0000","#0099ff","#0099ff","#ff0000","#ff0000","#008c00"]}}}},
{"data":{"name":"rules"},
 "mark":{"type":"rule","strokeWidth":1},
 "encoding":{"x2":{"field":"x2"},"y2":{"field":"y2"},
  "color":{"field":"k","type":"nominal","legend":null,"scale":{"domain":["ruler","cov","covAlt","thr"],"range":["#000000","#ff0000","#00e000","#a06464"]}}}},
{"data":{"name":"genes"},
 "mark":{"type":"line","strokeWidth":1,"color":"#000000"},
 "encoding":{"detail":{"field":"g","type":"nominal"},"order":{"field":"o","type":"quantitative"}}},
{"data":{"name":"arrow33"},
 "mark":{"type":"area","color":"#000000","interpolate":"linear"},
 "encoding":{"y2":{"field":"y2"}}},
{"data":{"name":"flags"},
 "mark":{"type":"area","color":"#ff0000","interpolate":"step-after"},
 "encoding":{"y2":{"field":"y2"},"detail":{"field":"f","type":"nominal"}}},
{"data":{"name":"labL"},
 "mark":{"type":"text","align":"left","baseline":"alphabetic","font":"DejaVu Sans Mono","fontSize":10,"color":"#000000"},
 "encoding":{"text":{"field":"t","type":"nominal"}}},
{"data":{"name":"labC"},
 "mark":{"type":"text","align":"center","baseline":"alphabetic","font":"DejaVu Sans Mono","fontSize":10,"color":"#000000"},
 "encoding":{"text":{"field":"t","type":"nominal"}}},
{"data":{"name":"labR"},
 "mark":{"type":"text","align":"right","baseline":"alphabetic","font":"DejaVu Sans Mono","fontSize":10,"color":"#000000"},
 "encoding":{"text":{"field":"t","type":"nominal"}}}
],
"resolve":{"scale":{"color":"independent"}}
}
